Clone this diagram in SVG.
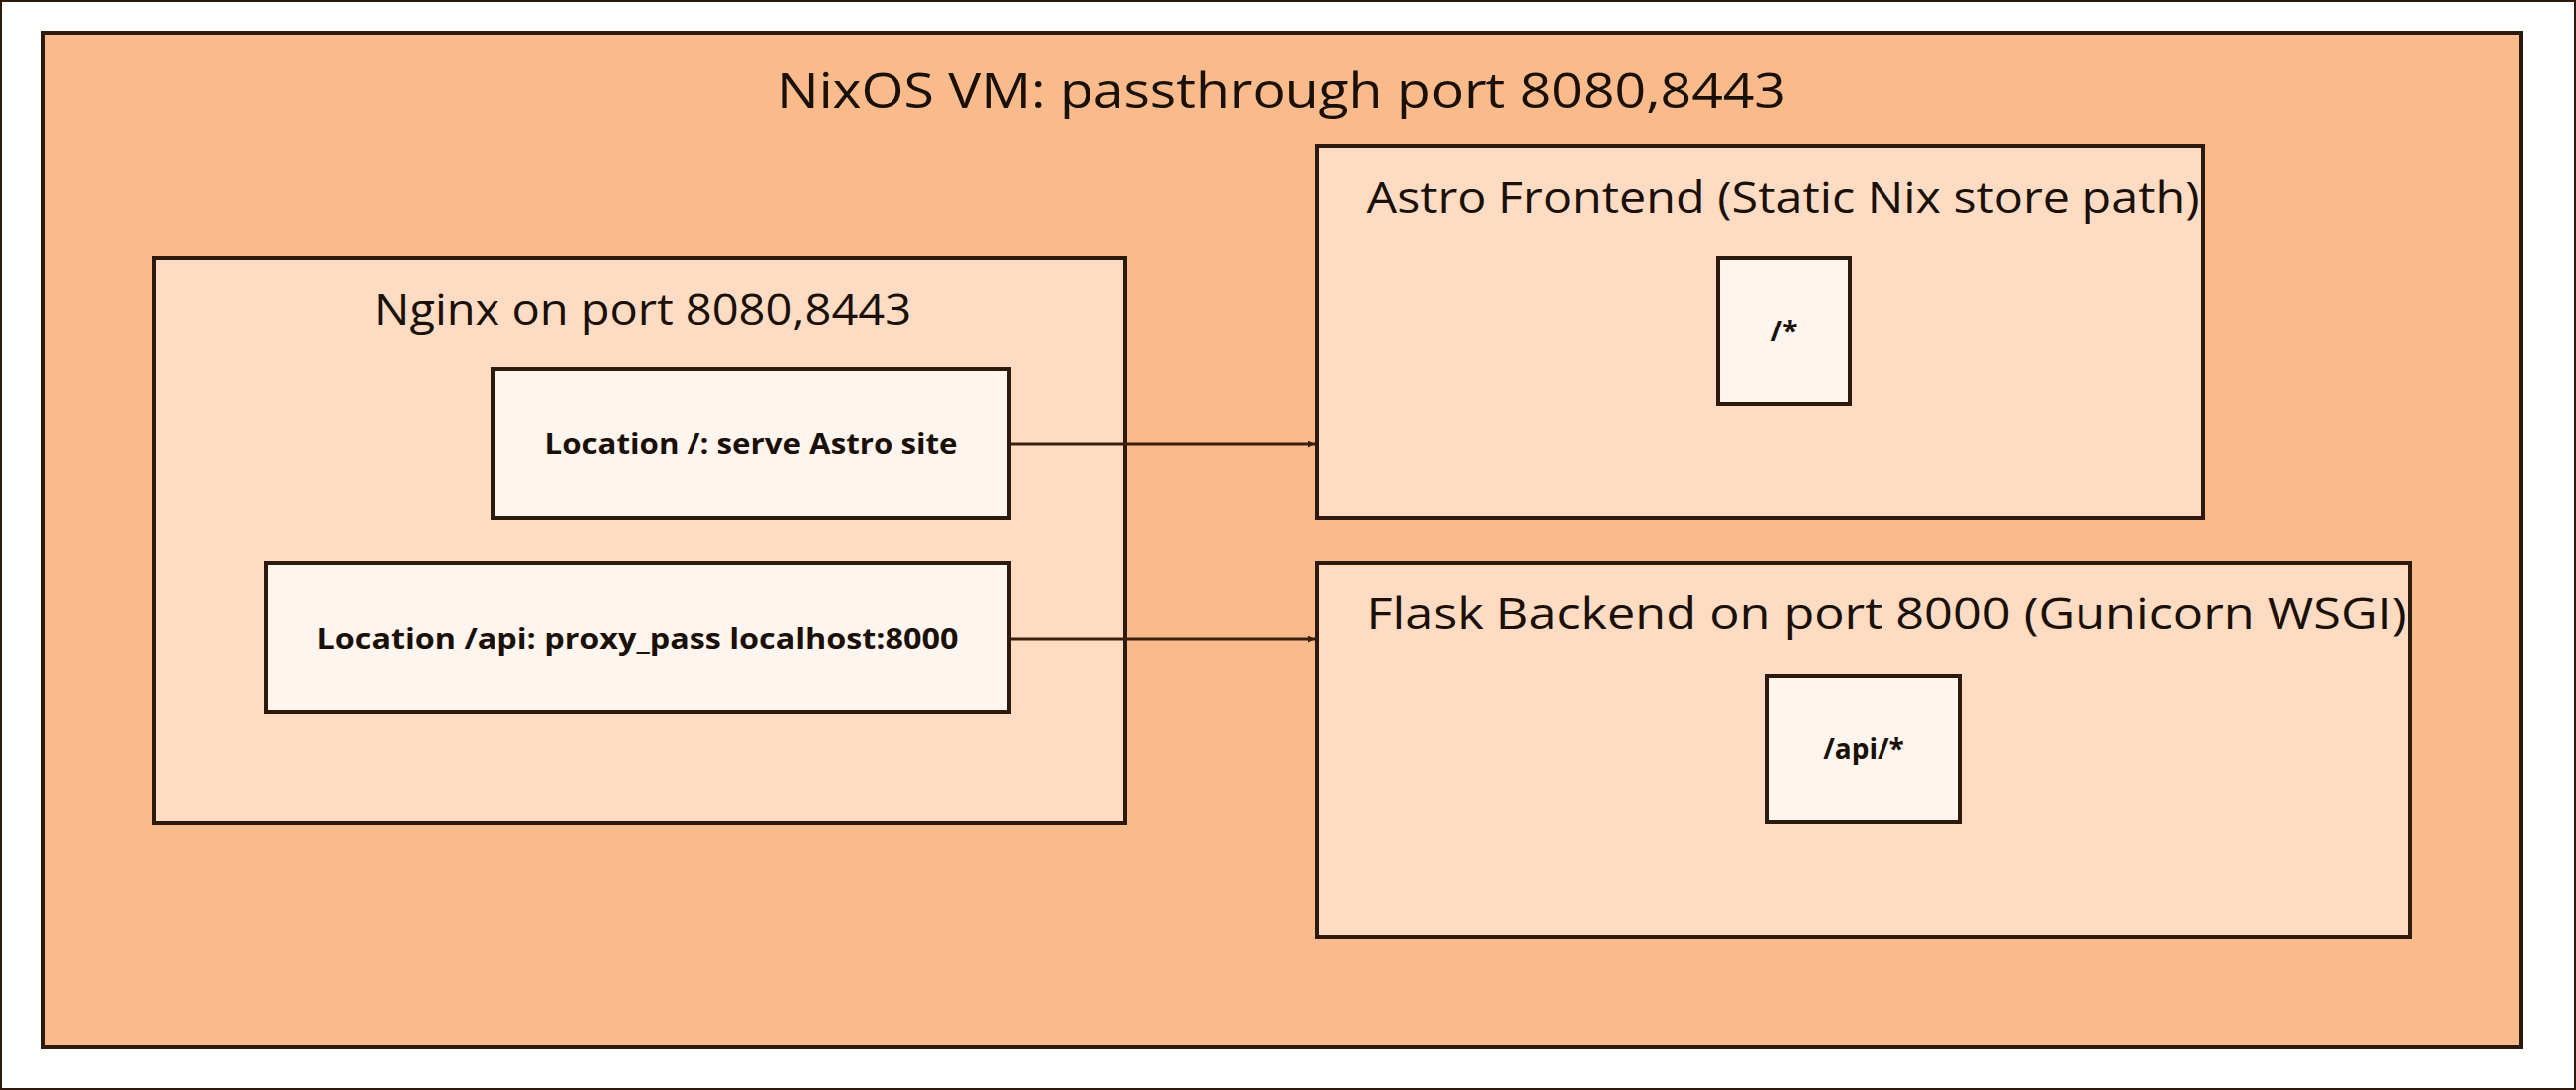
<svg xmlns="http://www.w3.org/2000/svg" width="2589" height="1095" viewBox="0 0 2589 1095">
<style>
rect{stroke:#2e1a0c;stroke-width:4}
.o{fill:#f9bb8c}.m{fill:#fedcc3}.l{fill:#fef5ef}
text{font-family:"Open Sans","Noto Sans",sans-serif;fill:#1a1008;text-anchor:middle}
.t{font-size:50px}.s{font-size:44px}.b{font-size:28px;font-weight:bold}
.c{stroke:#3a200c;stroke-width:3;fill:none}
</style>
<defs><marker id="a" viewBox="0 0 10 10" refX="10" refY="5" markerWidth="7" markerHeight="7" markerUnits="userSpaceOnUse" orient="auto"><path d="M0,0L10,5L0,10z" fill="#3a200c"/></marker></defs>
<rect width="2589" height="1095" fill="#fff" stroke="none"/>
<g id="vm"><rect class="o" x="43" y="33" width="2491" height="1019"/><text class="t" x="1288" y="108" textLength="1014" lengthAdjust="spacingAndGlyphs">NixOS VM: passthrough port 8080,8443</text></g>
<g id="nginx"><rect class="m" x="155" y="259" width="976" height="568"/><text class="s" x="646" y="326" textLength="540" lengthAdjust="spacingAndGlyphs">Nginx on port 8080,8443</text></g>
<g id="loc1"><rect class="l" x="495" y="371" width="519" height="149"/><text class="b" x="755" y="456" textLength="415" lengthAdjust="spacingAndGlyphs">Location /: serve Astro site</text></g>
<g id="loc2"><rect class="l" x="267" y="566" width="747" height="149"/><text class="b" x="641" y="652" textLength="645" lengthAdjust="spacingAndGlyphs">Location /api: proxy_pass localhost:8000</text></g>
<g id="astro"><rect class="m" x="1324" y="147" width="890" height="373"/><text class="s" x="1792" y="214" textLength="837" lengthAdjust="spacingAndGlyphs">Astro Frontend (Static Nix store path)</text></g>
<g id="static"><rect class="l" x="1727" y="259" width="132" height="147"/><text class="b" x="1793" y="343">/*</text></g>
<g id="flask"><rect class="m" x="1324" y="566" width="1098" height="375"/><text class="s" x="1896" y="632" textLength="1045" lengthAdjust="spacingAndGlyphs">Flask Backend on port 8000 (Gunicorn WSGI)</text></g>
<g id="api"><rect class="l" x="1776" y="679" width="194" height="147"/><text class="b" x="1873" y="762">/api/*</text></g>
<g id="connectors"><path class="c" d="M1016,446H1322" marker-end="url(#a)"/><path class="c" d="M1016,642H1322" marker-end="url(#a)"/></g>
</svg>
